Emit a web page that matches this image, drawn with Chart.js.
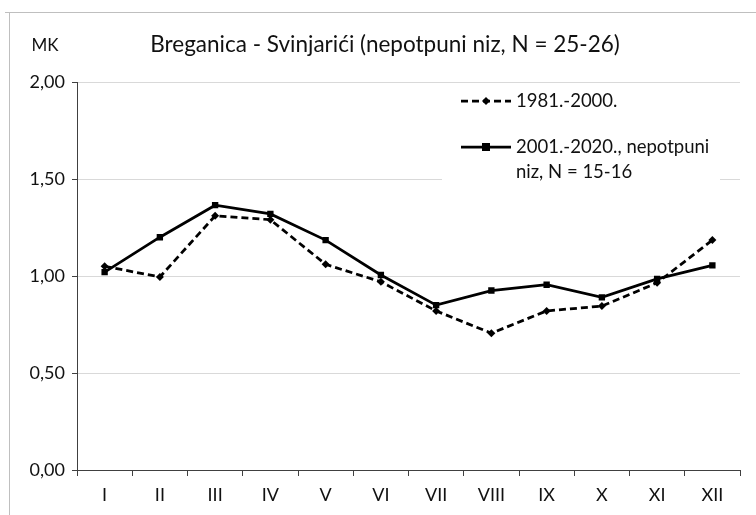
<!DOCTYPE html>
<html>
<head>
<meta charset="utf-8">
<script src="https://cdn.jsdelivr.net/npm/chart.js@4"></script>
<style>
  html, body { margin: 0; padding: 0; background: #fff; }
  #wrap { width: 756px; height: 515px; position: relative; }
</style>
</head>
<body>
<div id="wrap"><canvas id="c" width="756" height="515"></canvas></div>
<script>
// Monthly coefficients (MK) for Breganica - Svinjarići
const months = ['I', 'II', 'III', 'IV', 'V', 'VI', 'VII', 'VIII', 'IX', 'X', 'XI', 'XII'];
const period1981_2000 = [1.05, 0.995, 1.31, 1.29, 1.06, 0.97, 0.82, 0.705, 0.82, 0.845, 0.965, 1.185];
const period2001_2020 = [1.02, 1.20, 1.365, 1.32, 1.185, 1.005, 0.85, 0.925, 0.955, 0.89, 0.985, 1.055];
const yTicks = [0, 0.5, 1.0, 1.5, 2.0];

const FONT = 'Lato, "Open Sans", sans-serif';
const NARROW = '"Liberation Sans Narrow", "Arial Narrow", Lato, sans-serif';
const TEXT = '#111';
const AXIS = '#404040';

// Frame, title, axis caption and the in-plot legend
const decor = {
  id: 'decor',
  beforeDraw(chart) {
    const ctx = chart.ctx;
    ctx.save();
    ctx.fillStyle = '#fff';
    ctx.fillRect(0, 0, chart.width, chart.height);
    ctx.strokeStyle = '#bfbfbf';
    ctx.lineWidth = 1;
    ctx.beginPath();
    ctx.moveTo(5, 12.5);
    ctx.lineTo(chart.width + 5, 12.5);
    ctx.moveTo(9.5, 12);
    ctx.lineTo(9.5, chart.height + 5);
    ctx.stroke();
    ctx.restore();
  },
  afterDraw(chart) {
    const ctx = chart.ctx;
    ctx.save();
    ctx.fillStyle = TEXT;
    ctx.textBaseline = 'middle';
    ctx.textAlign = 'center';
    ctx.font = '22.5px ' + FONT;
    ctx.fillText('Breganica - Svinjarići (nepotpuni niz, N = 25-26)', 385, 45);
    ctx.font = '17px ' + FONT;
    ctx.fillText('MK', 45, 46);

    // legend box
    ctx.fillStyle = '#fff';
    ctx.fillRect(442, 86, 278, 102);
    ctx.strokeStyle = '#000';
    ctx.fillStyle = '#000';
    // dashed entry
    ctx.lineWidth = 2.75;
    ctx.setLineDash([7, 4]);
    ctx.beginPath();
    ctx.moveTo(461, 101);
    ctx.lineTo(511, 101);
    ctx.stroke();
    ctx.setLineDash([]);
    ctx.beginPath();
    ctx.moveTo(486, 97);
    ctx.lineTo(490, 101);
    ctx.lineTo(486, 105);
    ctx.lineTo(482, 101);
    ctx.closePath();
    ctx.fill();
    // solid entry
    ctx.beginPath();
    ctx.moveTo(461, 147);
    ctx.lineTo(511, 147);
    ctx.stroke();
    ctx.fillRect(482, 143, 8, 8);

    ctx.font = '18.5px ' + FONT;
    ctx.textAlign = 'left';
    ctx.fillStyle = TEXT;
    ctx.fillText('1981.-2000.', 516, 101);
    ctx.fillText('2001.-2020., nepotpuni', 516, 147);
    ctx.fillText('niz, N = 15-16', 516, 172);
    ctx.restore();
  }
};

new Chart(document.getElementById('c'), {
  type: 'line',
  data: {
    labels: months,
    datasets: [
      {
        label: '1981.-2000.',
        data: period1981_2000,
        borderColor: '#000',
        backgroundColor: '#000',
        borderWidth: 2.75,
        borderDash: [7, 4],
        pointStyle: 'rectRot',
        pointRadius: 4,
        pointBorderWidth: 0,
        tension: 0
      },
      {
        label: '2001.-2020., nepotpuni niz, N = 15-16',
        data: period2001_2020,
        borderColor: '#000',
        backgroundColor: '#000',
        borderWidth: 2.75,
        pointStyle: 'rect',
        pointRadius: 4.5,
        pointBorderWidth: 0,
        tension: 0
      }
    ]
  },
  options: {
    responsive: false,
    animation: false,
    devicePixelRatio: 1,
    layout: { padding: { top: 82, right: 16, bottom: 0, left: 0 } },
    plugins: {
      legend: { display: false },
      title: { display: false },
      tooltip: { enabled: false }
    },
    scales: {
      x: {
        offset: true,
        grid: {
          offset: true,
          drawOnChartArea: false,
          drawTicks: true,
          tickLength: 6,
          tickColor: AXIS
        },
        border: { display: true, color: AXIS, width: 1 },
        ticks: {
          color: TEXT,
          font: { family: NARROW, size: 18 },
          padding: 8,
          maxRotation: 0,
          autoSkip: false
        },
        afterFit(scale) { scale.height = 45; }
      },
      y: {
        min: 0,
        max: 2,
        afterBuildTicks(scale) { scale.ticks = yTicks.map(v => ({ value: v })); },
        grid: {
          color: '#d9d9d9',
          lineWidth: 1,
          drawTicks: true,
          tickLength: 5,
          tickColor: AXIS
        },
        border: { display: true, color: AXIS, width: 1 },
        ticks: {
          color: TEXT,
          font: { family: FONT, size: 18 },
          padding: 7,
          callback: v => v.toFixed(2).replace('.', ',')
        },
        afterFit(scale) { scale.width = 77; }
      }
    }
  },
  plugins: [decor]
});
</script>
</body>
</html>
